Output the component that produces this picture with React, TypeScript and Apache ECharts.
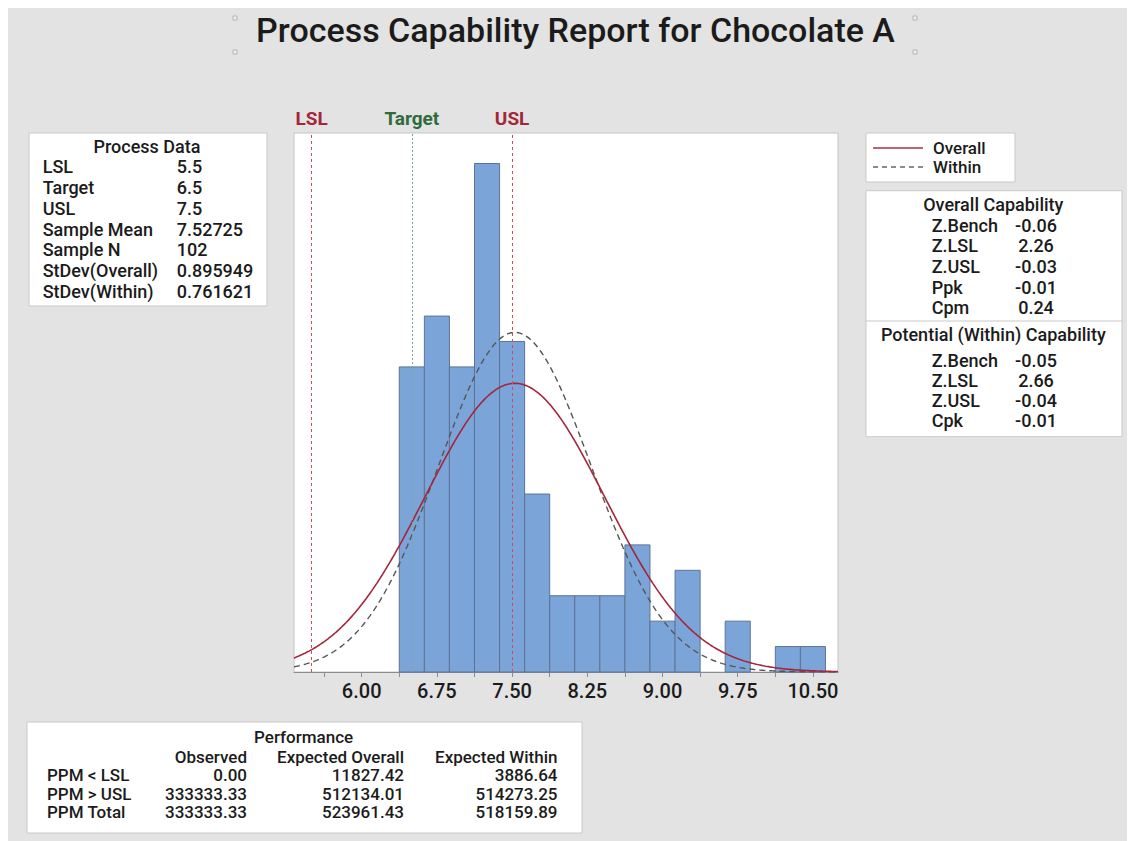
import React, { useEffect, useRef } from "react";
import * as echarts from "echarts";

// Specification limits and sample summary
const LSL = 5.5;
const TARGET = 6.5;
const USL = 7.5;
const sampleMean = 7.52725;
const sampleN = 102;
const stdevOverall = 0.895949;
const stdevWithin = 0.761621;

// Histogram bins (width 0.25) and counts
const binWidth = 0.25;
const binCenters = [6.5, 6.75, 7.0, 7.25, 7.5, 7.75, 8.0, 8.25, 8.5, 8.75, 9.0, 9.25, 9.5, 9.75, 10.0, 10.25, 10.5];
const binCounts = [12, 14, 12, 20, 13, 7, 3, 3, 3, 5, 2, 4, 0, 2, 0, 1, 1];

// Axis
const xMin = 5.325;
const xMax = 10.75;
const yMax = 21.2;
const xLabelValues = [6.0, 6.75, 7.5, 8.25, 9.0, 9.75, 10.5];
const xTickValues = [5.625, 6.0, 6.375, 6.75, 7.125, 7.5, 7.875, 8.25, 8.625, 9.0, 9.375, 9.75, 10.125, 10.5];

// Tables
const processLabels = ["LSL", "Target", "USL", "Sample Mean", "Sample N", "StDev(Overall)", "StDev(Within)"];
const processValues = ["5.5", "6.5", "7.5", "7.52725", "102", "0.895949", "0.761621"];

const overallLabels = ["Z.Bench", "Z.LSL", "Z.USL", "Ppk", "Cpm"];
const overallValues = ["-0.06", "2.26", "-0.03", "-0.01", "0.24"];
const withinLabels = ["Z.Bench", "Z.LSL", "Z.USL", "Cpk"];
const withinValues = ["-0.05", "2.66", "-0.04", "-0.01"];

const perfRows = ["PPM < LSL", "PPM > USL", "PPM Total"];
const perfHeaders = ["Observed", "Expected Overall", "Expected Within"];
const perfObserved = ["0.00", "333333.33", "333333.33"];
const perfExpOverall = ["11827.42", "512134.01", "523961.43"];
const perfExpWithin = ["3886.64", "514273.25", "518159.89"];

const FONT = 'Roboto, "Noto Sans", sans-serif';
const INK = "#1b1b1b";
const SPEC_RED = "#a3263a";
const SPEC_GREEN = "#2f6b3c";

// Fitted normal curve, scaled to histogram counts
function normalCurve(mean: number, sd: number): number[][] {
  const pts: number[][] = [];
  const scale = sampleN * binWidth;
  const steps = 400;
  for (let i = 0; i <= steps; i++) {
    const x = xMin + ((xMax - xMin) * i) / steps;
    const z = (x - mean) / sd;
    const y = (scale / (sd * Math.sqrt(2 * Math.PI))) * Math.exp(-0.5 * z * z);
    pts.push([x, y]);
  }
  return pts;
}

function txt(text: string, x: number, y: number, opts: any = {}) {
  return {
    type: "text",
    x,
    y,
    z: 10,
    style: {
      text,
      fill: opts.fill ?? INK,
      font: `${opts.weight ?? 500} ${opts.size ?? 18}px ${FONT}`,
      textAlign: opts.align ?? "left",
      textVerticalAlign: "middle",
    },
  };
}

function box(x: number, y: number, w: number, h: number) {
  return {
    type: "rect",
    z: 5,
    shape: { x, y, width: w, height: h },
    style: { fill: "#ffffff", stroke: "#c9c9c9", lineWidth: 1 },
  };
}

function handle(x: number, y: number) {
  return {
    type: "rect",
    z: 5,
    shape: { x: x - 2, y: y - 2, width: 4, height: 4 },
    style: { fill: "#efefef", stroke: "#b5b5b5", lineWidth: 1 },
  };
}

function buildGraphics() {
  const g: any[] = [];

  // Title with selection handles
  g.push(txt("Process Capability Report for Chocolate A", 567.5, 22, { size: 34, align: "center" }));
  g.push(handle(227, 10), handle(227, 44), handle(907, 10), handle(907, 44));

  // Process Data
  g.push(box(21, 125, 238, 173));
  g.push(txt("Process Data", 139, 138.7, { align: "center" }));
  processLabels.forEach((l, i) => {
    const y = 158.7 + i * 20.8;
    g.push(txt(l, 34.7, y));
    g.push(txt(processValues[i], 168.7, y));
  });

  // Legend
  g.push(box(858, 125, 149, 49));
  g.push({ type: "line", z: 10, shape: { x1: 865, y1: 140, x2: 915, y2: 140 }, style: { stroke: "#a6313f", lineWidth: 1.5 } });
  g.push({ type: "line", z: 10, shape: { x1: 865, y1: 159, x2: 915, y2: 159 }, style: { stroke: "#666", lineWidth: 1.3, lineDash: [5, 4] } });
  g.push(txt("Overall", 925, 140, { size: 17 }));
  g.push(txt("Within", 925, 159, { size: 17 }));

  // Capability
  g.push(box(858, 182.7, 256, 246));
  g.push({ type: "line", z: 10, shape: { x1: 858, y1: 313, x2: 1114, y2: 313 }, style: { stroke: "#c9c9c9", lineWidth: 1 } });
  g.push(txt("Overall Capability", 985.3, 196, { align: "center" }));
  overallLabels.forEach((l, i) => {
    const y = 217 + i * 20.7;
    g.push(txt(l, 923.7, y));
    g.push(txt(overallValues[i], 1028, y, { align: "center" }));
  });
  g.push(txt("Potential (Within) Capability", 985.3, 326.3, { align: "center" }));
  withinLabels.forEach((l, i) => {
    const y = 352 + i * 20;
    g.push(txt(l, 923.7, y));
    g.push(txt(withinValues[i], 1028, y, { align: "center" }));
  });

  // Performance
  g.push(box(19, 714, 555, 111));
  g.push(txt("Performance", 295.6, 729, { align: "center", size: 17 }));
  const colRight = [239, 396, 549.5];
  perfHeaders.forEach((h, j) => g.push(txt(h, colRight[j], 748.5, { align: "right", size: 17 })));
  const cols = [perfObserved, perfExpOverall, perfExpWithin];
  perfRows.forEach((r, i) => {
    const y = 767 + i * 18.5;
    g.push(txt(r, 39, y, { size: 17 }));
    cols.forEach((c, j) => g.push(txt(c[i], colRight[j], y, { align: "right", size: 17 })));
  });

  return g;
}

export default function App() {
  const ref = useRef<HTMLDivElement>(null);

  useEffect(() => {
    if (!ref.current) return;
    const chart = echarts.init(ref.current, undefined, { renderer: "svg" });

    const histData = binCenters.map((c, i) => [c, binCounts[i]]);
    const specLine = (value: number, name: string, color: string, labelColor: string, dash: number[]) => ({
      xAxis: value,
      name,
      lineStyle: { color, width: 1, type: dash },
      label: {
        show: true,
        position: "end",
        formatter: name,
        color: labelColor,
        fontFamily: FONT,
        fontWeight: 700,
        fontSize: 19,
        distance: 5,
      },
    });

    chart.setOption({
      animation: false,
      backgroundColor: "#e3e3e3",
      grid: {
        left: 286,
        top: 125,
        right: 297,
        bottom: 169,
        show: true,
        backgroundColor: "#ffffff",
        borderColor: "#c4c4c4",
        borderWidth: 1,
      },
      xAxis: {
        type: "value",
        min: xMin,
        max: xMax,
        splitLine: { show: false },
        axisLine: { show: true, lineStyle: { color: "#8c8c8c", width: 1 } },
        axisTick: { show: true, length: 5, lineStyle: { color: "#8c8c8c" }, customValues: xTickValues },
        axisLabel: {
          customValues: xLabelValues,
          formatter: (v: number) => v.toFixed(2),
          color: INK,
          fontFamily: FONT,
          fontWeight: 500,
          fontSize: 20,
          margin: 9,
        },
      },
      yAxis: {
        type: "value",
        min: 0,
        max: yMax,
        show: false,
        splitLine: { show: false },
      },
      series: [
        {
          type: "custom",
          name: "Histogram",
          data: histData,
          encode: { x: 0, y: 1 },
          renderItem: (params: any, api: any) => {
            const c = api.value(0);
            const n = api.value(1);
            if (!n) return null;
            const p0 = api.coord([c - binWidth / 2, n]);
            const p1 = api.coord([c + binWidth / 2, 0]);
            return {
              type: "rect",
              shape: { x: p0[0], y: p0[1], width: p1[0] - p0[0], height: p1[1] - p0[1] },
              style: { fill: "#7ba5d9", stroke: "#5d7395", lineWidth: 1 },
            };
          },
          z: 2,
        },
        {
          type: "line",
          name: "Within",
          data: normalCurve(sampleMean, stdevWithin),
          showSymbol: false,
          symbol: "none",
          lineStyle: { color: "#555555", width: 1.4, type: [6, 4] },
          z: 3,
        },
        {
          type: "line",
          name: "Overall",
          data: normalCurve(sampleMean, stdevOverall),
          showSymbol: false,
          symbol: "none",
          lineStyle: { color: "#a3263a", width: 1.6 },
          z: 4,
          markLine: {
            silent: true,
            symbol: ["none", "none"],
            animation: false,
            data: [
              specLine(LSL, "LSL", "#d9455a", SPEC_RED, [3, 3]),
              specLine(TARGET, "Target", "#6fae8c", SPEC_GREEN, [2, 2]),
              specLine(USL, "USL", "#d9455a", SPEC_RED, [3, 3]),
            ],
          },
        },
      ],
      graphic: buildGraphics(),
    });

    return () => chart.dispose();
  }, []);

  return <div ref={ref} style={{ width: 1127, height: 833 }} />;
}
